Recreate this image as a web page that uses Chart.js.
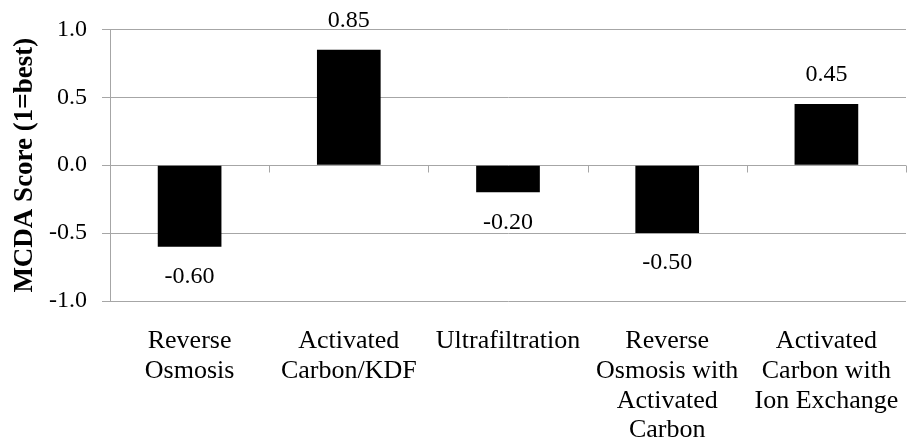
<!DOCTYPE html>
<html>
<head>
<meta charset="utf-8">
<script src="https://cdn.jsdelivr.net/npm/chart.js@4/dist/chart.umd.min.js"></script>
<style>
  html, body { margin: 0; padding: 0; background: #fff; }
  #wrap { width: 907px; height: 437px; }
</style>
</head>
<body>
<div id="wrap"><canvas id="scoreChart" width="907" height="437"></canvas></div>
<script>
// treatment options and their scores
const categories = [
  ["Reverse", "Osmosis"],
  ["Activated", "Carbon/KDF"],
  ["Ultrafiltration"],
  ["Reverse", "Osmosis with", "Activated", "Carbon"],
  ["Activated", "Carbon with", "Ion Exchange"]
];
const scores = [-0.60, 0.85, -0.20, -0.50, 0.45];
const yTicks = [-1.0, -0.5, 0.0, 0.5, 1.0];

const FONT = "'Liberation Serif', 'Times New Roman', serif";
const GRID = "#a6a6a6";

Chart.defaults.color = "#000";
Chart.defaults.font.family = FONT;

// value labels outside the bar ends
const valueLabels = {
  id: "valueLabels",
  afterDatasetsDraw(chart){
    const ctx = chart.ctx;
    const meta = chart.getDatasetMeta(0);
    ctx.save();
    ctx.font = "24px " + FONT;
    ctx.fillStyle = "#000";
    ctx.textAlign = "center";
    ctx.textBaseline = "middle";
    meta.data.forEach((bar, i) => {
      const v = scores[i];
      const y = v >= 0 ? bar.y - 29 : bar.y + 30;
      ctx.fillText(v.toFixed(2), bar.x, y);
    });
    ctx.restore();
  }
};

// small tick marks on the zero line between categories
const zeroTicks = {
  id: "zeroTicks",
  beforeDatasetsDraw(chart){
    const { ctx, scales:{ x, y } } = chart;
    const y0 = Math.round(y.getPixelForValue(0)) + 0.5;
    const step = x.width / categories.length;
    ctx.save();
    ctx.strokeStyle = GRID;
    ctx.lineWidth = 1;
    ctx.beginPath();
    for(let i = 0; i <= categories.length; i++){
      const px = Math.round(x.left + i*step) + 0.5;
      ctx.moveTo(px, y0);
      ctx.lineTo(px, y0 + 7);
    }
    ctx.stroke();
    ctx.restore();
  }
};

new Chart(document.getElementById("scoreChart").getContext("2d"), {
  type: "bar",
  data: {
    labels: categories,
    datasets: [{
      data: scores,
      backgroundColor: "#000",
      borderWidth: 0,
      barPercentage: 0.4,
      categoryPercentage: 1.0
    }]
  },
  options: {
    responsive: false,
    animation: false,
    layout: { padding: { top: 28, right: 1, bottom: 0, left: 0 } },
    plugins: { legend: { display: false }, tooltip: { enabled: false } },
    scales: {
      x: {
        grid: { display: false },
        border: { display: false },
        ticks: {
          autoSkip: false,
          maxRotation: 0,
          minRotation: 0,
          padding: 17,
          font: { size: 26, lineHeight: 1.15 }
        },
        afterFit(scale){
          scale.height = 136;
          // labels fit inside their category, no extra side room needed
          scale.paddingLeft = 0;
          scale.paddingRight = 0;
        }
      },
      y: {
        min: -1,
        max: 1,
        afterBuildTicks(scale){ scale.ticks = yTicks.map(v => ({ value: v })); },
        ticks: {
          padding: 15,
          font: { size: 24 },
          callback: (v) => Number(v).toFixed(1)
        },
        grid: { color: GRID, tickLength: 8, lineWidth: 1 },
        border: { color: GRID },
        title: {
          display: true,
          text: "MCDA Score (1=best)",
          font: { size: 27, weight: "bold", lineHeight: 1.1 },
          padding: { top: 10, bottom: 0 }
        },
        afterFit(scale){ scale.width = 110; }
      }
    }
  },
  plugins: [zeroTicks, valueLabels]
});
</script>
</body>
</html>
